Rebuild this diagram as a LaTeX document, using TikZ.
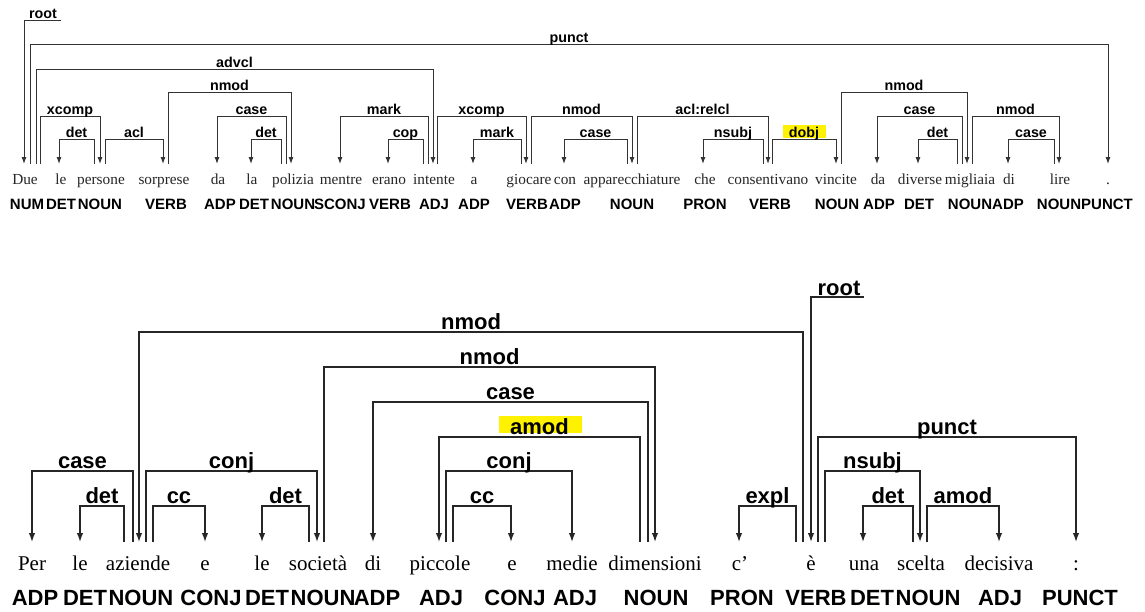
\documentclass[tikz,border=0pt]{standalone}
\usepackage{fontspec}
\setmainfont{Liberation Serif}
\newfontfamily\labfont{Liberation Sans}
\usetikzlibrary{arrows.meta}
\tikzset{
  wordA/.style={anchor=base, inner sep=0pt, text=black!85, font=\fontsize{15.3}{18}\selectfont},
  posA/.style={anchor=base, inner sep=0pt, font=\labfont\bfseries\fontsize{15}{18}\selectfont},
  labA/.style={anchor=base, inner sep=0pt, font=\labfont\bfseries\fontsize{14.3}{17}\selectfont},
  depA/.style={draw=black!80, line width=1pt, -{Latex[length=7pt,width=5pt]}},
  wordB/.style={anchor=base, inner sep=0pt, font=\fontsize{21}{25}\selectfont},
  posB/.style={anchor=base, inner sep=0pt, font=\labfont\bfseries\fontsize{22}{26}\selectfont},
  labB/.style={anchor=base, inner sep=0pt, font=\labfont\bfseries\fontsize{22}{26}\selectfont},
  depB/.style={draw=black!85, line width=1.4pt, -{Latex[length=9pt,width=6.5pt]}},
  hilite/.style={fill=yellow},
}
% #1 suffix A/B, #2 name, #3 tail x, #4 head x, #5 level y, #6 label, #7 tip y, #8 label drop
\newcommand\deparc[8]{%
  \draw[dep#1] (#3,#7) |- (#4,#5) -- (#4,#7);
  \node[lab#1] (#2) at ({(#3+#4)/2},{#5-#8}) {#6};
}
\begin{document}
\begin{tikzpicture}[x=1pt,y=-1pt]
\useasboundingbox[fill=white] (0,0) rectangle (1145,611);

% ---------------- top sentence ----------------
\foreach \x/\t [count=\i] in {25/Due,61/le,101/persone,164/sorprese,218/da,252/la,293/polizia,341/mentre,389/erano,434/intente,474/a,529/giocare,565/con,632/apparecchiature,705/che,768/consentivano,836/vincite,878/da,920/diverse,970/migliaia,1009/di,1060/lire,1108/.}
  \node[wordA] (w\i) at (\x,184) {\t};
\foreach \x/\t [count=\i] in {27/NUM,61/DET,100/NOUN,166/VERB,220/ADP,254/DET,293/NOUN,340/SCONJ,390/VERB,434/ADJ,474/ADP,527/VERB,565/ADP,632/NOUN,705/PRON,770/VERB,837/NOUN,879/ADP,919/DET,970/NOUN,1008/ADP,1059/NOUN,1107/PUNCT}
  \node[posA] (p\i) at (\x,209) {\t};

\fill[hilite] (783,125) rectangle (826,138);

\draw[depA] (61,20) -- (24,20) -- (24,164);
\node[labA] (rootA) at (43,18) {root};
\deparc{A}{a1}{30}{1108}{44}{punct}{164}{2}
\deparc{A}{a2}{36}{433}{69}{advcl}{164}{2}
\deparc{A}{a3}{40}{100}{116}{xcomp}{164}{2}
\deparc{A}{a4}{94}{59}{139}{det}{164}{2}
\deparc{A}{a5}{105}{163}{139}{acl}{164}{2}
\deparc{A}{a6}{168}{291}{92}{nmod}{164}{2}
\deparc{A}{a7}{286}{217}{116}{case}{164}{2}
\deparc{A}{a8}{281}{251}{139}{det}{164}{2}
\deparc{A}{a9}{428}{340}{116}{mark}{164}{2}
\deparc{A}{a10}{423}{388}{139}{cop}{164}{2}
\deparc{A}{a11}{437}{526}{116}{xcomp}{164}{2}
\deparc{A}{a12}{521}{473}{139}{mark}{164}{2}
\deparc{A}{a13}{531}{632}{116}{nmod}{164}{2}
\deparc{A}{a14}{627}{564}{139}{case}{164}{2}
\deparc{A}{a15}{637}{768}{116}{acl:relcl}{164}{2}
\deparc{A}{a16}{763}{703}{139}{nsubj}{164}{2}
\deparc{A}{a17}{772}{836}{139}{dobj}{164}{2}
\deparc{A}{a18}{841}{967}{92}{nmod}{164}{2}
\deparc{A}{a19}{962}{877}{116}{case}{164}{2}
\deparc{A}{a20}{957}{918}{139}{det}{164}{2}
\deparc{A}{a21}{972}{1059}{116}{nmod}{164}{2}
\deparc{A}{a22}{1054}{1008}{139}{case}{164}{2}

% ---------------- bottom sentence ----------------
\foreach \x/\t [count=\i] in {32/Per,80/le,138/aziende,205/e,262/le,318/società,373/di,440/piccole,512/e,572/medie,655/dimensioni,740/c',811/è,864/una,921/scelta,999/decisiva,1076/:}
  \node[wordB] (v\i) at (\x,570) {\t};
\foreach \x/\t [count=\i] in {35/ADP,85/DET,141/NOUN,211/CONJ,267/DET,323/NOUN,377/ADP,441/ADJ,515/CONJ,575/ADJ,656/NOUN,742/PRON,816/VERB,872/DET,928/NOUN,1000/ADJ,1080/PUNCT}
  \node[posB] (q\i) at (\x,605) {\t};

\fill[hilite] (499,416) rectangle (582,433);

\draw[depB] (864,297) -- (811,297) -- (811,542);
\node[labB] (rootB) at (839,295) {root};
\deparc{B}{b1}{133}{32}{471}{case}{542}{3}
\deparc{B}{b2}{124}{80}{506}{det}{542}{3}
\deparc{B}{b3}{803}{139}{332}{nmod}{542}{3}
\deparc{B}{b4}{146}{317}{471}{conj}{542}{3}
\deparc{B}{b5}{153}{205}{506}{cc}{542}{3}
\deparc{B}{b6}{309}{262}{506}{det}{542}{3}
\deparc{B}{b7}{324}{655}{367}{nmod}{542}{3}
\deparc{B}{b8}{648}{373}{402}{case}{542}{3}
\deparc{B}{b9}{640}{439}{437}{amod}{542}{3}
\deparc{B}{b10}{446}{572}{471}{conj}{542}{3}
\deparc{B}{b11}{453}{511}{506}{cc}{542}{3}
\deparc{B}{b12}{796}{739}{506}{expl}{542}{3}
\deparc{B}{b13}{818}{1076}{437}{punct}{542}{3}
\deparc{B}{b14}{825}{920}{471}{nsubj}{542}{3}
\deparc{B}{b15}{913}{863}{506}{det}{542}{3}
\deparc{B}{b16}{927}{999}{506}{amod}{542}{3}
\end{tikzpicture}
\end{document}
